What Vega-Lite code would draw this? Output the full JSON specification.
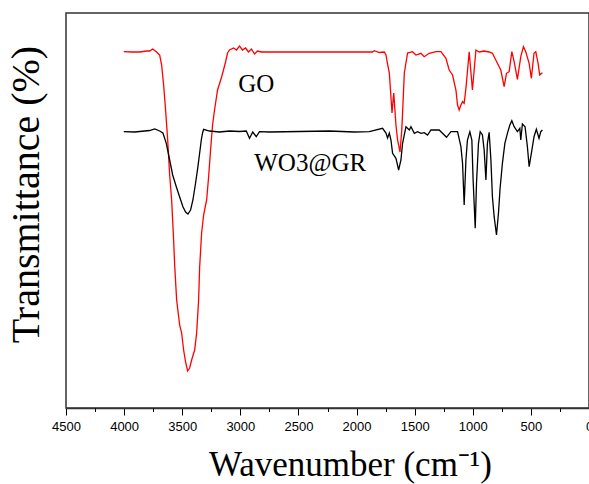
{
  "$schema": "https://vega.github.io/schema/vega-lite/v6.json",
  "usermeta": {"embedOptions": {"actions": false}},
  "autosize": "none",
  "width": 523,
  "height": 395,
  "padding": {"left": 66, "top": 13, "right": 0, "bottom": 76},
  "background": "white",
  "config": {"view": {"stroke": "#333", "strokeWidth": 1.5}, "axis": {"grid": false}},
  "datasets": {
    "spectra": [
      {"series":"GO","wn":4003,"T":356.3},{"series":"GO","wn":3935,"T":356},{"series":"GO","wn":3866,"T":356},{"series":"GO","wn":3806,"T":357},{"series":"GO","wn":3780,"T":357},{"series":"GO","wn":3754,"T":359},{"series":"GO","wn":3720,"T":356},{"series":"GO","wn":3694,"T":353},{"series":"GO","wn":3677,"T":343},{"series":"GO","wn":3660,"T":323},{"series":"GO","wn":3643,"T":298},{"series":"GO","wn":3625,"T":268},{"series":"GO","wn":3608,"T":233},{"series":"GO","wn":3591,"T":208},{"series":"GO","wn":3574,"T":168},{"series":"GO","wn":3565,"T":143},{"series":"GO","wn":3548,"T":108},{"series":"GO","wn":3522,"T":83},{"series":"GO","wn":3505,"T":75},{"series":"GO","wn":3488,"T":58},{"series":"GO","wn":3471,"T":46},{"series":"GO","wn":3454,"T":37},{"series":"GO","wn":3436,"T":40},{"series":"GO","wn":3419,"T":48},{"series":"GO","wn":3393,"T":58},{"series":"GO","wn":3376,"T":75},{"series":"GO","wn":3359,"T":108},{"series":"GO","wn":3350,"T":141},{"series":"GO","wn":3333,"T":175},{"series":"GO","wn":3316,"T":193},{"series":"GO","wn":3290,"T":208},{"series":"GO","wn":3273,"T":231},{"series":"GO","wn":3256,"T":258},{"series":"GO","wn":3239,"T":283},{"series":"GO","wn":3222,"T":298},{"series":"GO","wn":3196,"T":318},{"series":"GO","wn":3161,"T":331},{"series":"GO","wn":3127,"T":346},{"series":"GO","wn":3110,"T":355},{"series":"GO","wn":3093,"T":358},{"series":"GO","wn":3058,"T":360},{"series":"GO","wn":3033,"T":358},{"series":"GO","wn":3007,"T":362},{"series":"GO","wn":2981,"T":358},{"series":"GO","wn":2955,"T":360},{"series":"GO","wn":2930,"T":356},{"series":"GO","wn":2904,"T":359},{"series":"GO","wn":2878,"T":354},{"series":"GO","wn":2852,"T":357},{"series":"GO","wn":2818,"T":356},{"series":"GO","wn":2491,"T":356},{"series":"GO","wn":2148,"T":356},{"series":"GO","wn":1864,"T":356},{"series":"GO","wn":1847,"T":357.3},{"series":"GO","wn":1804,"T":355.5},{"series":"GO","wn":1761,"T":356},{"series":"GO","wn":1747,"T":353},{"series":"GO","wn":1735,"T":345},{"series":"GO","wn":1718,"T":335},{"series":"GO","wn":1704,"T":311},{"series":"GO","wn":1695,"T":295},{"series":"GO","wn":1680,"T":315},{"series":"GO","wn":1661,"T":283},{"series":"GO","wn":1647,"T":268},{"series":"GO","wn":1626,"T":256},{"series":"GO","wn":1611,"T":278},{"series":"GO","wn":1604,"T":295},{"series":"GO","wn":1589,"T":335},{"series":"GO","wn":1561,"T":355},{"series":"GO","wn":1518,"T":356.3},{"series":"GO","wn":1489,"T":353},{"series":"GO","wn":1446,"T":354.7},{"series":"GO","wn":1418,"T":351.3},{"series":"GO","wn":1375,"T":354.7},{"series":"GO","wn":1317,"T":356.3},{"series":"GO","wn":1274,"T":356.3},{"series":"GO","wn":1231,"T":349.7},{"series":"GO","wn":1203,"T":338},{"series":"GO","wn":1174,"T":333},{"series":"GO","wn":1145,"T":318},{"series":"GO","wn":1131,"T":303},{"series":"GO","wn":1117,"T":298},{"series":"GO","wn":1102,"T":303},{"series":"GO","wn":1088,"T":306.3},{"series":"GO","wn":1074,"T":304.7},{"series":"GO","wn":1059,"T":319.7},{"series":"GO","wn":1046,"T":336.3},{"series":"GO","wn":1031,"T":356.3},{"series":"GO","wn":1003,"T":318},{"series":"GO","wn":973,"T":358},{"series":"GO","wn":945,"T":356},{"series":"GO","wn":902,"T":357},{"series":"GO","wn":859,"T":356},{"series":"GO","wn":831,"T":354.7},{"series":"GO","wn":802,"T":348},{"series":"GO","wn":759,"T":338},{"series":"GO","wn":730,"T":321.3},{"series":"GO","wn":710,"T":334.7},{"series":"GO","wn":687,"T":336.3},{"series":"GO","wn":664,"T":356.3},{"series":"GO","wn":644,"T":346.3},{"series":"GO","wn":616,"T":328.7},{"series":"GO","wn":587,"T":351.3},{"series":"GO","wn":564,"T":361.3},{"series":"GO","wn":544,"T":356.3},{"series":"GO","wn":515,"T":344.7},{"series":"GO","wn":496,"T":329.7},{"series":"GO","wn":473,"T":354.7},{"series":"GO","wn":458,"T":356.3},{"series":"GO","wn":438,"T":344.7},{"series":"GO","wn":424,"T":333},{"series":"GO","wn":401,"T":335.3},
      {"series":"WO3@GR","wn":4003,"T":276.3},{"series":"WO3@GR","wn":3909,"T":276},{"series":"WO3@GR","wn":3823,"T":277},{"series":"WO3@GR","wn":3780,"T":277.5},{"series":"WO3@GR","wn":3737,"T":279},{"series":"WO3@GR","wn":3694,"T":277},{"series":"WO3@GR","wn":3666,"T":275},{"series":"WO3@GR","wn":3637,"T":264.7},{"series":"WO3@GR","wn":3608,"T":248},{"series":"WO3@GR","wn":3582,"T":233},{"series":"WO3@GR","wn":3551,"T":221.3},{"series":"WO3@GR","wn":3522,"T":211},{"series":"WO3@GR","wn":3494,"T":201.3},{"series":"WO3@GR","wn":3471,"T":196},{"series":"WO3@GR","wn":3451,"T":194},{"series":"WO3@GR","wn":3428,"T":198},{"series":"WO3@GR","wn":3408,"T":208},{"series":"WO3@GR","wn":3385,"T":225},{"series":"WO3@GR","wn":3365,"T":241.3},{"series":"WO3@GR","wn":3350,"T":255},{"series":"WO3@GR","wn":3336,"T":268},{"series":"WO3@GR","wn":3325,"T":275},{"series":"WO3@GR","wn":3316,"T":278.7},{"series":"WO3@GR","wn":3265,"T":277},{"series":"WO3@GR","wn":3179,"T":276},{"series":"WO3@GR","wn":3093,"T":277},{"series":"WO3@GR","wn":3007,"T":276.5},{"series":"WO3@GR","wn":2949,"T":277},{"series":"WO3@GR","wn":2921,"T":269.7},{"series":"WO3@GR","wn":2893,"T":276},{"series":"WO3@GR","wn":2863,"T":271.3},{"series":"WO3@GR","wn":2835,"T":276.3},{"series":"WO3@GR","wn":2749,"T":276},{"series":"WO3@GR","wn":2491,"T":276.5},{"series":"WO3@GR","wn":2234,"T":277},{"series":"WO3@GR","wn":2019,"T":276},{"series":"WO3@GR","wn":1890,"T":276.3},{"series":"WO3@GR","wn":1776,"T":279.7},{"series":"WO3@GR","wn":1747,"T":275},{"series":"WO3@GR","wn":1733,"T":270},{"series":"WO3@GR","wn":1718,"T":275},{"series":"WO3@GR","wn":1704,"T":268},{"series":"WO3@GR","wn":1690,"T":254.7},{"series":"WO3@GR","wn":1661,"T":249.7},{"series":"WO3@GR","wn":1638,"T":238},{"series":"WO3@GR","wn":1618,"T":248},{"series":"WO3@GR","wn":1604,"T":264.7},{"series":"WO3@GR","wn":1575,"T":281.3},{"series":"WO3@GR","wn":1546,"T":278},{"series":"WO3@GR","wn":1532,"T":281.3},{"series":"WO3@GR","wn":1503,"T":274.7},{"series":"WO3@GR","wn":1475,"T":276.3},{"series":"WO3@GR","wn":1446,"T":274.7},{"series":"WO3@GR","wn":1418,"T":275.3},{"series":"WO3@GR","wn":1389,"T":273},{"series":"WO3@GR","wn":1360,"T":278},{"series":"WO3@GR","wn":1289,"T":278},{"series":"WO3@GR","wn":1226,"T":270.7},{"series":"WO3@GR","wn":1188,"T":276.3},{"series":"WO3@GR","wn":1131,"T":276.3},{"series":"WO3@GR","wn":1102,"T":261.3},{"series":"WO3@GR","wn":1088,"T":244.7},{"series":"WO3@GR","wn":1074,"T":203},{"series":"WO3@GR","wn":1059,"T":248},{"series":"WO3@GR","wn":1046,"T":268},{"series":"WO3@GR","wn":1025,"T":276.3},{"series":"WO3@GR","wn":1008,"T":268},{"series":"WO3@GR","wn":997,"T":228},{"series":"WO3@GR","wn":979,"T":179.7},{"series":"WO3@GR","wn":968,"T":224.7},{"series":"WO3@GR","wn":951,"T":264.7},{"series":"WO3@GR","wn":936,"T":276.3},{"series":"WO3@GR","wn":917,"T":273},{"series":"WO3@GR","wn":902,"T":258},{"series":"WO3@GR","wn":887,"T":228},{"series":"WO3@GR","wn":874,"T":264.7},{"series":"WO3@GR","wn":859,"T":275.7},{"series":"WO3@GR","wn":844,"T":248},{"series":"WO3@GR","wn":831,"T":211.3},{"series":"WO3@GR","wn":816,"T":191.3},{"series":"WO3@GR","wn":796,"T":173},{"series":"WO3@GR","wn":779,"T":194.7},{"series":"WO3@GR","wn":765,"T":219.7},{"series":"WO3@GR","wn":745,"T":244.7},{"series":"WO3@GR","wn":724,"T":264.7},{"series":"WO3@GR","wn":702,"T":274.7},{"series":"WO3@GR","wn":681,"T":283},{"series":"WO3@GR","wn":664,"T":287.3},{"series":"WO3@GR","wn":644,"T":281.3},{"series":"WO3@GR","wn":616,"T":276.3},{"series":"WO3@GR","wn":595,"T":279.7},{"series":"WO3@GR","wn":587,"T":268},{"series":"WO3@GR","wn":573,"T":284},{"series":"WO3@GR","wn":550,"T":281.3},{"series":"WO3@GR","wn":530,"T":261.3},{"series":"WO3@GR","wn":515,"T":241.3},{"series":"WO3@GR","wn":496,"T":254.7},{"series":"WO3@GR","wn":473,"T":271.3},{"series":"WO3@GR","wn":453,"T":278.7},{"series":"WO3@GR","wn":430,"T":269.7},{"series":"WO3@GR","wn":415,"T":276.3},{"series":"WO3@GR","wn":401,"T":278}
    ],
    "notes": [
      {"label":"GO","wn":2863,"T":324.5},
      {"label":"WO3@GR","wn":2399,"T":245.5}
    ]
  },
  "title": {
    "text": "Transmittance (%)",
    "orient": "left",
    "anchor": "middle",
    "font": "Liberation Serif",
    "fontSize": 40,
    "fontWeight": "normal",
    "color": "#000",
    "offset": 16,
    "dx": 16,
    "dy": 11
  },
  "layer": [
    {
      "data": {"name": "spectra"},
      "mark": {"type": "line", "strokeWidth": 1.3},
      "encoding": {
        "x": {"field": "wn", "type": "quantitative",
          "scale": {"domain": [0, 4500], "reverse": true, "nice": false, "zero": false},
          "axis": {"orient": "bottom", "values": [0,500,1000,1500,2000,2500,3000,3500,4000,4500], "format": "d",
            "tickSize": 7, "tickColor": "#000", "tickWidth": 1, "domainColor": "#333", "domainWidth": 1.5,
            "labelFont": "Liberation Sans", "labelFontSize": 13, "labelColor": "#000", "labelPadding": 5,
            "labelFlush": false, "labelOverlap": false,
            "title": "Wavenumber (cm⁻¹)", "titleFont": "Liberation Serif", "titleFontSize": 35,
            "titleFontWeight": "normal", "titleColor": "#000", "titlePadding": 14, "titleX": 284}},
        "y": {"field": "T", "type": "quantitative",
          "scale": {"domain": [0, 395], "nice": false, "zero": false},
          "axis": {"ticks": false, "labels": false, "domainColor": "#333", "domainWidth": 1.5, "title": null}},
        "color": {"field": "series", "type": "nominal",
          "scale": {"domain": ["WO3@GR", "GO"], "range": ["#000000", "#ff0000"]}, "legend": null}
      }
    },
    {
      "data": {"name": "spectra"},
      "mark": {"type": "point", "opacity": 0},
      "encoding": {
        "x": {"field": "wn", "type": "quantitative",
          "axis": {"orient": "bottom", "values": [250,750,1250,1750,2250,2750,3250,3750,4250],
            "labels": false, "tickSize": 3.5, "tickColor": "#000", "tickWidth": 1, "domain": false, "title": null}}
      }
    },
    {
      "data": {"name": "notes"},
      "mark": {"type": "text", "font": "Liberation Serif", "fontSize": 25, "color": "#000", "align": "center", "baseline": "middle"},
      "encoding": {
        "x": {"field": "wn", "type": "quantitative", "axis": null},
        "y": {"field": "T", "type": "quantitative", "axis": null},
        "text": {"field": "label"}
      }
    }
  ],
  "resolve": {"axis": {"x": "independent"}}
}
